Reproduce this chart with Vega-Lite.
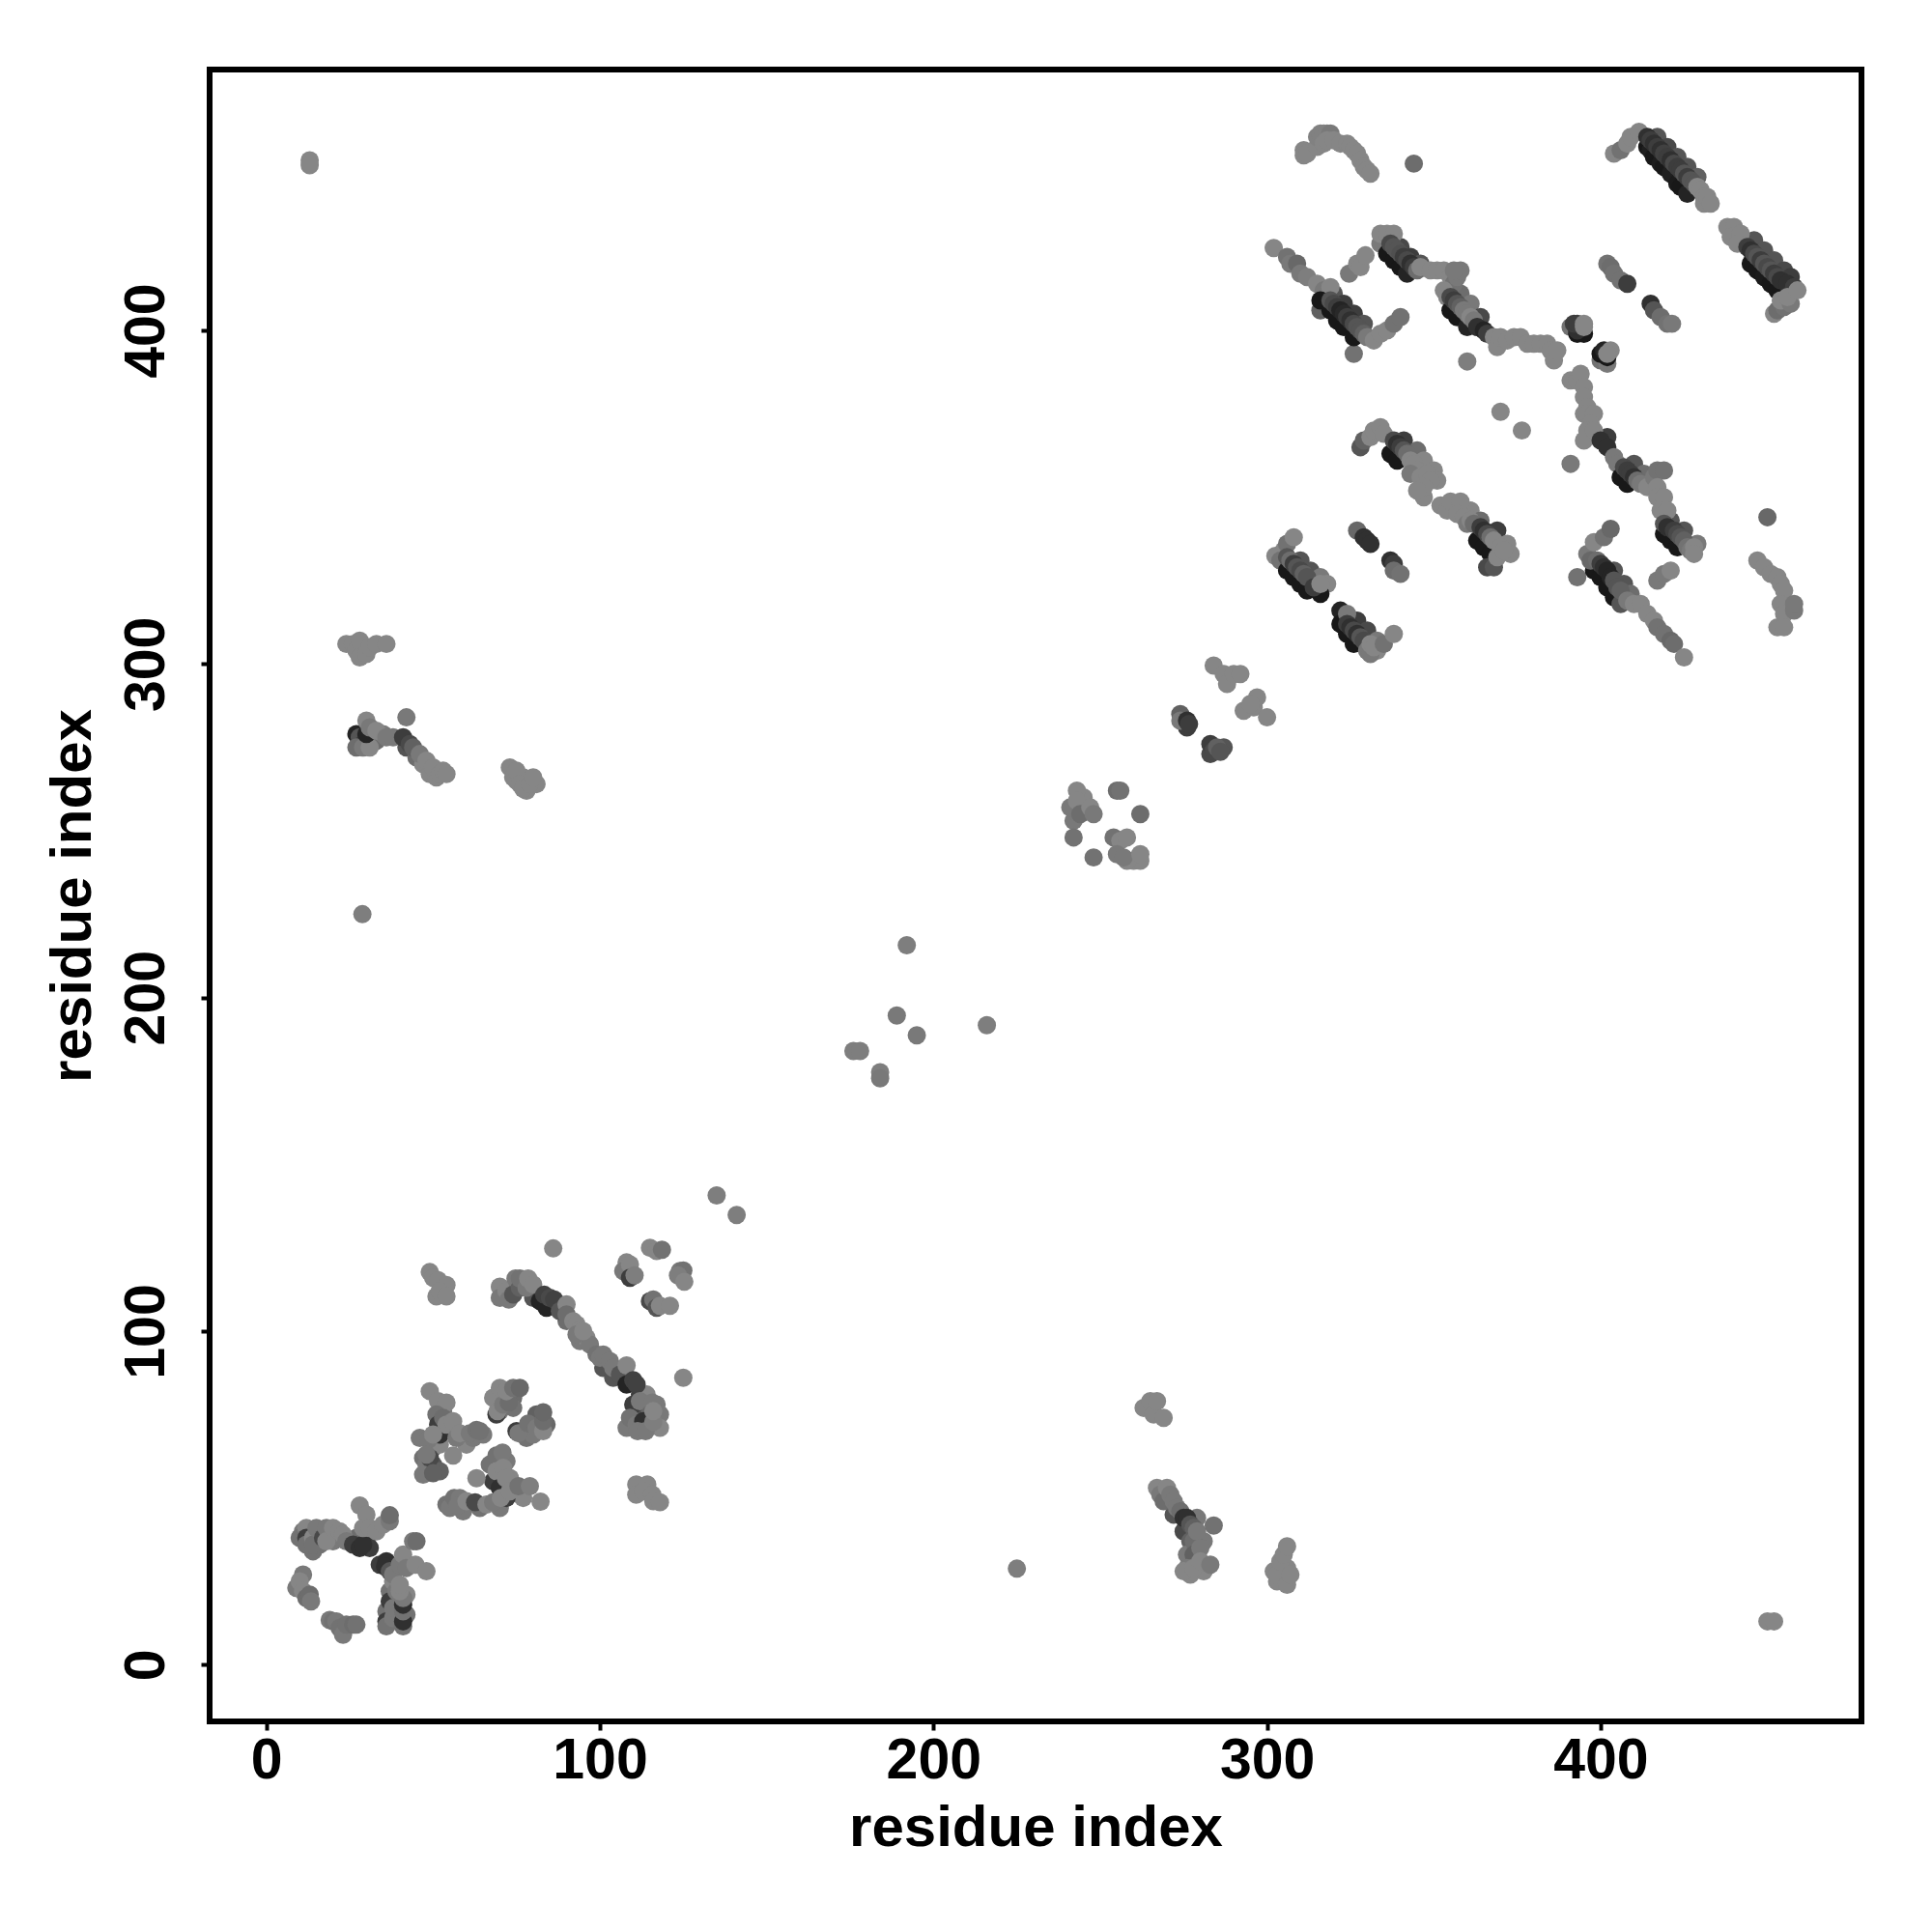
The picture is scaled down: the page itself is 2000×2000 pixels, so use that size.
{"$schema":"https://vega.github.io/schema/vega-lite/v6.json","autosize":{"type":"none"},"padding":{"left":217,"top":72,"right":73,"bottom":218},"width":1710,"height":1710,"background":"white","config":{"view":{"stroke":"#000000","strokeWidth":6}},"data":{"values":[
{"x":417,"y":458,"p":0.3},{"x":420,"y":455,"p":0.25},{"x":423,"y":452,"p":0.3},{"x":426,"y":449,"p":0.3},{"x":429,"y":446,"p":0.35},{"x":446,"y":427,"p":0.3},{"x":449,"y":424,"p":0.3},{"x":452,"y":421,"p":0.3},{"x":455,"y":418,"p":0.25},{"x":457,"y":416,"p":0.2},{"x":320,"y":411,"p":0.3},{"x":323,"y":408,"p":0.2},{"x":326,"y":405,"p":0.2},{"x":329,"y":402,"p":0.3},{"x":340,"y":425,"p":0.25},{"x":343,"y":422,"p":0.2},{"x":346,"y":420,"p":0.3},{"x":358,"y":411,"p":0.4},{"x":361,"y":408,"p":0.45},{"x":364,"y":404,"p":0.25},{"x":402,"y":368,"p":0.2},{"x":410,"y":360,"p":0.3},{"x":413,"y":357,"p":0.4},{"x":421,"y":343,"p":0.3},{"x":425,"y":340,"p":0.3},{"x":429,"y":336,"p":0.45},{"x":341,"y":367,"p":0.2},{"x":345,"y":364,"p":0.4},{"x":347,"y":361,"p":0.5},{"x":350,"y":358,"p":0.5},{"x":351,"y":355,"p":0.5},{"x":347,"y":350,"p":0.5},{"x":361,"y":346,"p":0.5},{"x":364,"y":343,"p":0.4},{"x":369,"y":340,"p":0.2},{"x":372,"y":336,"p":0.5},{"x":373,"y":333,"p":0.5},{"x":310,"y":331,"p":0.3},{"x":313,"y":328,"p":0.3},{"x":316,"y":326,"p":0.45},{"x":318,"y":324,"p":0.5},{"x":327,"y":313,"p":0.2},{"x":330,"y":310,"p":0.25},{"x":333,"y":307,"p":0.45},{"x":333,"y":304,"p":0.5},{"x":404,"y":328,"p":0.3},{"x":407,"y":324,"p":0.3},{"x":409,"y":321,"p":0.4},
{"x":14,"y":34,"p":0.42},{"x":16,"y":36,"p":0.42},{"x":20,"y":37,"p":0.45},{"x":11,"y":40,"p":0.45},{"x":10,"y":38,"p":0.42},{"x":15,"y":39,"p":0.4},{"x":40,"y":14,"p":0.42},{"x":36,"y":16,"p":0.42},{"x":37,"y":22,"p":0.42},{"x":42,"y":15,"p":0.42},{"x":42,"y":21,"p":0.5},{"x":38,"y":25,"p":0.5},{"x":34,"y":30,"p":0.2},{"x":36,"y":31,"p":0.15},{"x":30,"y":37,"p":0.15},{"x":31,"y":35,"p":0.2},{"x":27,"y":38,"p":0.4},
{"x":47,"y":62,"p":0.42},{"x":48,"y":60,"p":0.45},{"x":50,"y":60,"p":0.3},{"x":52,"y":58,"p":0.35},{"x":46,"y":68,"p":0.45},{"x":50,"y":65,"p":0.45},{"x":52,"y":66,"p":0.5},{"x":55,"y":70,"p":0.5},{"x":53,"y":76,"p":0.45},{"x":60,"y":66,"p":0.5},{"x":62,"y":68,"p":0.45},{"x":65,"y":69,"p":0.45},{"x":68,"y":80,"p":0.5},{"x":74,"y":80,"p":0.4},{"x":70,"y":76,"p":0.45},{"x":74,"y":77,"p":0.42},{"x":78,"y":68,"p":0.42},{"x":80,"y":69,"p":0.45},{"x":81,"y":75,"p":0.35},{"x":84,"y":72,"p":0.38},{"x":67,"y":60,"p":0.42},{"x":72,"y":61,"p":0.45},{"x":68,"y":55,"p":0.2},{"x":73,"y":56,"p":0.5},{"x":76,"y":51,"p":0.45},{"x":77,"y":50,"p":0.5},{"x":59,"y":46,"p":0.45},{"x":64,"y":47,"p":0.42},{"x":70,"y":47,"p":0.45},{"x":54,"y":48,"p":0.42},{"x":55,"y":47,"p":0.45},
{"x":80,"y":110,"p":0.3},{"x":87,"y":107,"p":0.25},{"x":90,"y":103,"p":0.4},{"x":94,"y":97,"p":0.45},{"x":96,"y":98,"p":0.5},{"x":97,"y":96,"p":0.45},{"x":101,"y":89,"p":0.3},{"x":104,"y":86,"p":0.3},{"x":107,"y":88,"p":0.45},{"x":112,"y":81,"p":0.2},{"x":114,"y":80,"p":0.4},{"x":113,"y":76,"p":0.3},{"x":118,"y":75,"p":0.45},{"x":118,"y":71,"p":0.5},{"x":108,"y":71,"p":0.45},{"x":114,"y":81,"p":0.5},{"x":117,"y":78,"p":0.45},
{"x":27,"y":279,"p":0.1},{"x":28,"y":278,"p":0.3},{"x":29,"y":276,"p":0.2},{"x":33,"y":277,"p":0.4},{"x":35,"y":279,"p":0.45},{"x":42,"y":275,"p":0.3},{"x":45,"y":272,"p":0.4},{"x":47,"y":270,"p":0.5},{"x":49,"y":267,"p":0.5},{"x":51,"y":266,"p":0.5},{"x":75,"y":265,"p":0.5},{"x":78,"y":262,"p":0.5},{"x":81,"y":264,"p":0.5},{"x":77,"y":266,"p":0.5},{"x":243,"y":255,"p":0.45},{"x":245,"y":260,"p":0.5},{"x":242,"y":253,"p":0.45},{"x":260,"y":241,"p":0.5},{"x":262,"y":241,"p":0.5},{"x":283,"y":273,"p":0.25},{"x":287,"y":275,"p":0.3},{"x":276,"y":281,"p":0.2},{"x":271,"y":50,"p":0.4},{"x":272,"y":45,"p":0.3},{"x":275,"y":40,"p":0.25},{"x":279,"y":44,"p":0.45},{"x":277,"y":37,"p":0.35},{"x":281,"y":37,"p":0.45},{"x":276,"y":33,"p":0.45},{"x":281,"y":28,"p":0.5},{"x":277,"y":27,"p":0.5},{"x":303,"y":25,"p":0.5},{"x":306,"y":29,"p":0.5},{"x":305,"y":26,"p":0.5},
{"x":13,"y":451,"p":0.5},{"x":13,"y":449.5,"p":0.5},{"x":344,"y":450,"p":0.4},{"x":326,"y":393,"p":0.42},{"x":360,"y":390.7,"p":0.47},{"x":370,"y":375.6,"p":0.5},{"x":376.4,"y":370,"p":0.5},{"x":391,"y":360,"p":0.45},{"x":450,"y":344,"p":0.38},{"x":393,"y":326,"p":0.42},{"x":28.8,"y":225,"p":0.47},{"x":192,"y":215.7,"p":0.47},{"x":189,"y":194.6,"p":0.45},{"x":195,"y":188.7,"p":0.45},{"x":216,"y":191.7,"p":0.47},{"x":176,"y":184,"p":0.47},{"x":178,"y":184,"p":0.47},{"x":184,"y":177.6,"p":0.47},{"x":184,"y":175.8,"p":0.45},{"x":135,"y":140.7,"p":0.47},{"x":141,"y":134.8,"p":0.47},{"x":86,"y":124.8,"p":0.5},{"x":125,"y":86,"p":0.5},{"x":225,"y":28.8,"p":0.47},{"x":450,"y":13,"p":0.5},{"x":452,"y":13,"p":0.5},
{"x":311,"y":454,"p":0.5},{"x":311,"y":452.5,"p":0.5},{"x":312,"y":453,"p":0.5},{"x":315,"y":455,"p":0.5},{"x":315,"y":458,"p":0.48},{"x":316,"y":459,"p":0.48},{"x":317,"y":459,"p":0.48},{"x":318,"y":459,"p":0.48},{"x":319,"y":459,"p":0.45},{"x":317,"y":456,"p":0.5},{"x":318,"y":457,"p":0.5},{"x":320,"y":457,"p":0.5},{"x":322,"y":456,"p":0.5},{"x":324,"y":456,"p":0.5},{"x":325,"y":455,"p":0.5},{"x":326,"y":454,"p":0.5},{"x":327,"y":453,"p":0.5},{"x":328,"y":451,"p":0.5},{"x":329,"y":449,"p":0.5},{"x":330,"y":448,"p":0.5},{"x":331,"y":447,"p":0.5},
{"x":404,"y":453,"p":0.5},{"x":406,"y":454,"p":0.42},{"x":408,"y":456,"p":0.5},{"x":409,"y":458,"p":0.5},{"x":411.5,"y":459.5,"p":0.5},{"x":414,"y":455,"p":0.05},{"x":415,"y":454,"p":0.08},{"x":416,"y":452,"p":0.05},{"x":418,"y":450,"p":0.07},{"x":419,"y":449,"p":0.05},{"x":421,"y":447,"p":0.08},{"x":423,"y":444,"p":0.06},{"x":424,"y":443,"p":0.05},{"x":426,"y":441,"p":0.1},{"x":414,"y":458,"p":0.15},{"x":415,"y":457,"p":0.2},{"x":416,"y":456,"p":0.15},{"x":417,"y":455,"p":0.2},{"x":418,"y":454,"p":0.15},{"x":419,"y":453,"p":0.22},{"x":420,"y":452,"p":0.2},{"x":421,"y":451,"p":0.15},{"x":422,"y":450,"p":0.25},{"x":423,"y":449,"p":0.2},{"x":424,"y":448,"p":0.2},{"x":425,"y":447,"p":0.3},{"x":426,"y":446,"p":0.2},{"x":427,"y":445,"p":0.3},{"x":428,"y":444,"p":0.3},{"x":429,"y":443,"p":0.5},{"x":430,"y":442,"p":0.5},{"x":431,"y":440,"p":0.5},{"x":431,"y":438,"p":0.5},{"x":432,"y":440,"p":0.5},{"x":433,"y":438,"p":0.5},
{"x":438,"y":431,"p":0.5},{"x":440,"y":431,"p":0.5},{"x":439,"y":428,"p":0.5},{"x":442,"y":429,"p":0.5},{"x":441,"y":426,"p":0.5},{"x":445,"y":420,"p":0.05},{"x":447,"y":418,"p":0.05},{"x":449,"y":416,"p":0.06},{"x":451,"y":414,"p":0.05},{"x":453,"y":412,"p":0.05},{"x":444,"y":425,"p":0.2},{"x":445,"y":424,"p":0.15},{"x":446,"y":423,"p":0.25},{"x":447,"y":422,"p":0.3},{"x":448,"y":421,"p":0.2},{"x":449,"y":420,"p":0.3},{"x":450,"y":419,"p":0.25},{"x":451,"y":418,"p":0.3},{"x":452,"y":417,"p":0.2},{"x":453,"y":416,"p":0.25},{"x":454,"y":415,"p":0.15},{"x":456,"y":414,"p":0.15},{"x":458,"y":413,"p":0.2},{"x":452,"y":405,"p":0.5},{"x":453,"y":406,"p":0.4},{"x":455,"y":407,"p":0.42},{"x":454,"y":409,"p":0.5},{"x":457,"y":408,"p":0.45},{"x":456,"y":410,"p":0.5},{"x":459,"y":412,"p":0.5},
{"x":302,"y":424.7,"p":0.5},{"x":306,"y":422,"p":0.42},{"x":307,"y":420,"p":0.45},{"x":309,"y":420,"p":0.38},{"x":310,"y":417,"p":0.45},{"x":312,"y":416,"p":0.47},{"x":315,"y":414,"p":0.5},{"x":317,"y":412,"p":0.45},{"x":319,"y":413,"p":0.5},{"x":318,"y":409,"p":0.5},
{"x":316,"y":406,"p":0.35},{"x":316,"y":409,"p":0.05},{"x":319,"y":406,"p":0.05},{"x":321,"y":403,"p":0.05},{"x":323,"y":401,"p":0.05},{"x":326,"y":398,"p":0.05},{"x":319,"y":409,"p":0.3},{"x":320,"y":408,"p":0.25},{"x":321,"y":407,"p":0.2},{"x":322,"y":406,"p":0.1},{"x":323,"y":405,"p":0.12},{"x":324,"y":404,"p":0.2},{"x":325,"y":403,"p":0.15},{"x":326,"y":402,"p":0.25},{"x":327,"y":401,"p":0.3},{"x":328,"y":400,"p":0.3},{"x":329,"y":399,"p":0.35},{"x":330,"y":398,"p":0.45},{"x":332,"y":397,"p":0.5},{"x":334,"y":399,"p":0.5},{"x":336,"y":400,"p":0.5},{"x":338,"y":402,"p":0.42},{"x":340,"y":404,"p":0.42},
{"x":324.6,"y":417,"p":0.45},{"x":327,"y":420,"p":0.5},{"x":328,"y":419,"p":0.5},{"x":329.5,"y":422.5,"p":0.5},{"x":334,"y":426,"p":0.45},{"x":334,"y":429,"p":0.5},{"x":336,"y":429,"p":0.5},{"x":338,"y":429,"p":0.5},{"x":336,"y":423,"p":0.05},{"x":338,"y":421,"p":0.05},{"x":340,"y":419,"p":0.05},{"x":342,"y":417,"p":0.1},{"x":337,"y":426,"p":0.25},{"x":338,"y":425,"p":0.3},{"x":339,"y":424,"p":0.3},{"x":340,"y":423,"p":0.28},{"x":341,"y":422,"p":0.2},{"x":342,"y":421,"p":0.25},{"x":343,"y":420,"p":0.15},{"x":344,"y":419,"p":0.2},{"x":345,"y":418,"p":0.4},{"x":346,"y":419,"p":0.5},{"x":349,"y":418,"p":0.5},{"x":351,"y":418,"p":0.5},{"x":353,"y":418,"p":0.5},{"x":355,"y":416,"p":0.5},{"x":356,"y":414,"p":0.42},{"x":357,"y":416,"p":0.45},{"x":358,"y":418,"p":0.45},{"x":356,"y":418,"p":0.45},
{"x":353,"y":412,"p":0.5},{"x":354,"y":410,"p":0.5},{"x":355,"y":406,"p":0.05},{"x":357,"y":404,"p":0.05},{"x":360,"y":401,"p":0.1},{"x":355,"y":410,"p":0.25},{"x":356,"y":409,"p":0.2},{"x":357,"y":408,"p":0.3},{"x":358,"y":407,"p":0.35},{"x":359,"y":406,"p":0.45},{"x":360,"y":405,"p":0.45},{"x":361,"y":404,"p":0.5},{"x":362,"y":403,"p":0.45},{"x":363,"y":401,"p":0.15},{"x":365,"y":400,"p":0.1},{"x":366,"y":399,"p":0.2},{"x":368,"y":398,"p":0.5},{"x":369,"y":395,"p":0.5},{"x":370,"y":398,"p":0.5},{"x":372,"y":397,"p":0.5},{"x":374,"y":398,"p":0.5},{"x":376,"y":398,"p":0.5},{"x":378,"y":396,"p":0.5},{"x":380,"y":396,"p":0.5},{"x":382,"y":396,"p":0.5},{"x":384,"y":396,"p":0.5},{"x":385,"y":394,"p":0.5},{"x":386,"y":391,"p":0.5},{"x":387,"y":394,"p":0.5},
{"x":391,"y":401,"p":0.42},{"x":393,"y":399,"p":0.05},{"x":395,"y":399,"p":0.05},{"x":393,"y":400,"p":0.15},{"x":392,"y":402,"p":0.2},{"x":393,"y":402,"p":0.2},{"x":395,"y":402,"p":0.5},{"x":395,"y":401,"p":0.5},{"x":400,"y":391,"p":0.42},{"x":402,"y":390,"p":0.45},{"x":400,"y":393,"p":0.05},{"x":402,"y":392,"p":0.05},{"x":401,"y":394,"p":0.1},{"x":403,"y":394,"p":0.5},{"x":402,"y":393,"p":0.5},
{"x":402,"y":420,"p":0.42},{"x":403,"y":419,"p":0.4},{"x":404,"y":417,"p":0.42},{"x":406,"y":415,"p":0.42},{"x":408,"y":414,"p":0.2},{"x":415,"y":408,"p":0.15},{"x":416,"y":406,"p":0.3},{"x":418,"y":404,"p":0.4},{"x":420,"y":402,"p":0.42},{"x":421.4,"y":402,"p":0.45},
{"x":391,"y":385,"p":0.5},{"x":393,"y":385,"p":0.5},{"x":394,"y":387,"p":0.5},{"x":395,"y":383,"p":0.5},{"x":395,"y":380,"p":0.5},{"x":396,"y":377,"p":0.5},{"x":395,"y":375,"p":0.5},{"x":396,"y":375,"p":0.5},{"x":398,"y":375,"p":0.5},{"x":397,"y":372,"p":0.5},{"x":396,"y":370,"p":0.5},{"x":395,"y":367,"p":0.5},{"x":398,"y":370,"p":0.5},
{"x":400,"y":367,"p":0.15},{"x":402,"y":365,"p":0.15},{"x":404,"y":362,"p":0.45},{"x":405,"y":360,"p":0.45},{"x":406,"y":356,"p":0.05},{"x":408,"y":354,"p":0.05},{"x":407,"y":359,"p":0.25},{"x":408,"y":358,"p":0.2},{"x":409,"y":357,"p":0.2},{"x":410,"y":356,"p":0.15},{"x":411,"y":355,"p":0.4},{"x":412,"y":354,"p":0.45},{"x":414,"y":353,"p":0.5},{"x":416,"y":356,"p":0.45},{"x":417,"y":358,"p":0.42},{"x":419,"y":358,"p":0.42},{"x":417,"y":353,"p":0.5},{"x":417,"y":350,"p":0.5},{"x":419,"y":350,"p":0.5},{"x":418,"y":346,"p":0.5},{"x":420,"y":346,"p":0.5},
{"x":419,"y":339,"p":0.05},{"x":421,"y":337,"p":0.05},{"x":423,"y":335,"p":0.05},{"x":419,"y":342,"p":0.3},{"x":420,"y":341,"p":0.15},{"x":422,"y":340,"p":0.2},{"x":423,"y":339,"p":0.25},{"x":424,"y":338,"p":0.3},{"x":425,"y":337,"p":0.35},{"x":426,"y":335,"p":0.42},{"x":427,"y":334,"p":0.45},{"x":428,"y":335,"p":0.5},{"x":428,"y":333,"p":0.5},
{"x":328,"y":365,"p":0.3},{"x":329,"y":367,"p":0.35},{"x":331,"y":368,"p":0.5},{"x":332,"y":370,"p":0.5},{"x":334,"y":371,"p":0.5},{"x":335,"y":369,"p":0.5},{"x":337,"y":363,"p":0.05},{"x":339,"y":361,"p":0.05},{"x":338,"y":367,"p":0.25},{"x":339,"y":366,"p":0.15},{"x":340,"y":365,"p":0.2},{"x":341,"y":364,"p":0.3},{"x":342,"y":363,"p":0.4},{"x":343,"y":361,"p":0.5},{"x":344,"y":360,"p":0.5},{"x":345,"y":358,"p":0.5},{"x":343,"y":357,"p":0.45},{"x":346,"y":356,"p":0.5},{"x":348,"y":357,"p":0.5},{"x":349,"y":355,"p":0.5},{"x":347,"y":353,"p":0.5},{"x":345,"y":352,"p":0.5},
{"x":352,"y":347.5,"p":0.5},{"x":354,"y":346,"p":0.5},{"x":355,"y":348.7,"p":0.5},{"x":358,"y":348.7,"p":0.5},{"x":357,"y":345,"p":0.5},{"x":359,"y":344,"p":0.5},{"x":360,"y":342,"p":0.45},{"x":361,"y":343,"p":0.5},{"x":363,"y":337,"p":0.05},{"x":365,"y":335,"p":0.05},{"x":367,"y":333,"p":0.05},{"x":362,"y":342,"p":0.4},{"x":364,"y":341,"p":0.2},{"x":365,"y":340,"p":0.15},{"x":366,"y":339,"p":0.25},{"x":367,"y":338,"p":0.4},{"x":366,"y":329,"p":0.25},{"x":368,"y":329,"p":0.3},{"x":368,"y":337,"p":0.5},{"x":369,"y":332,"p":0.5},{"x":370,"y":335,"p":0.5},{"x":371,"y":334,"p":0.5},
{"x":302.5,"y":332.4,"p":0.5},{"x":305,"y":334,"p":0.5},{"x":306,"y":336,"p":0.42},{"x":308,"y":338,"p":0.5},{"x":304,"y":331,"p":0.42},{"x":306,"y":328,"p":0.05},{"x":308,"y":326,"p":0.05},{"x":310,"y":324,"p":0.05},{"x":312,"y":322,"p":0.05},{"x":316,"y":321,"p":0.05},{"x":306,"y":332,"p":0.3},{"x":307,"y":331,"p":0.4},{"x":308,"y":330,"p":0.2},{"x":309,"y":329,"p":0.3},{"x":310,"y":328,"p":0.25},{"x":311,"y":327,"p":0.35},{"x":312,"y":326,"p":0.3},{"x":314,"y":323,"p":0.2},{"x":316,"y":324,"p":0.5},
{"x":327,"y":340,"p":0.38},{"x":329,"y":338,"p":0.15},{"x":330,"y":337,"p":0.15},{"x":331,"y":336,"p":0.15},{"x":337,"y":331,"p":0.15},{"x":338,"y":330,"p":0.2},{"x":338,"y":328,"p":0.4},{"x":340,"y":327,"p":0.42},
{"x":322,"y":316,"p":0.1},{"x":322,"y":312,"p":0.05},{"x":324,"y":309,"p":0.05},{"x":326,"y":306,"p":0.05},{"x":324,"y":315,"p":0.45},{"x":324,"y":312,"p":0.2},{"x":325,"y":311,"p":0.15},{"x":326,"y":310,"p":0.25},{"x":327,"y":309,"p":0.15},{"x":328,"y":308,"p":0.3},{"x":329,"y":307,"p":0.25},{"x":330,"y":304,"p":0.45},{"x":331,"y":303,"p":0.45},{"x":331,"y":306,"p":0.5},{"x":332,"y":305,"p":0.5},{"x":335,"y":306,"p":0.42},{"x":338,"y":309,"p":0.5},
{"x":396,"y":333,"p":0.45},{"x":398,"y":336.5,"p":0.5},{"x":401,"y":338,"p":0.42},{"x":403,"y":340.5,"p":0.38},{"x":398,"y":328,"p":0.05},{"x":400,"y":326,"p":0.05},{"x":402,"y":323,"p":0.05},{"x":404,"y":320,"p":0.05},{"x":406,"y":318,"p":0.3},{"x":397,"y":331,"p":0.38},{"x":399,"y":331,"p":0.4},{"x":400,"y":330,"p":0.2},{"x":401,"y":329,"p":0.15},{"x":402,"y":328,"p":0.1},{"x":403,"y":326,"p":0.1},{"x":404,"y":325,"p":0.3},{"x":405,"y":323,"p":0.3},{"x":406,"y":322,"p":0.35},{"x":408,"y":319,"p":0.45},{"x":410,"y":318,"p":0.5},{"x":412,"y":318,"p":0.5},
{"x":417,"y":325,"p":0.45},{"x":419,"y":327,"p":0.45},{"x":421,"y":328,"p":0.5},{"x":414,"y":315,"p":0.5},{"x":416,"y":313,"p":0.5},{"x":417,"y":311,"p":0.42},{"x":419,"y":309,"p":0.42},{"x":421,"y":307,"p":0.38},{"x":422,"y":306,"p":0.4},{"x":425,"y":302,"p":0.5},
{"x":447,"y":331,"p":0.5},{"x":449,"y":329,"p":0.5},{"x":451,"y":327,"p":0.5},{"x":453,"y":326,"p":0.5},{"x":454,"y":324,"p":0.5},{"x":455,"y":322,"p":0.5},{"x":454,"y":318,"p":0.5},{"x":455,"y":315,"p":0.5},{"x":458,"y":316,"p":0.45},{"x":458,"y":318,"p":0.45},{"x":453,"y":311,"p":0.5},{"x":455,"y":311,"p":0.5},
{"x":274,"y":285,"p":0.35},{"x":274,"y":283,"p":0.45},{"x":276,"y":283,"p":0.15},{"x":276.6,"y":282,"p":0.2},{"x":283,"y":276,"p":0.2},{"x":284,"y":274,"p":0.25},{"x":285,"y":275,"p":0.35},{"x":286,"y":273.7,"p":0.3},{"x":284,"y":299.5,"p":0.5},{"x":287,"y":297,"p":0.5},{"x":288,"y":294,"p":0.5},{"x":290,"y":297,"p":0.5},{"x":292,"y":297,"p":0.5},{"x":293,"y":286,"p":0.5},{"x":296,"y":287,"p":0.5},{"x":297,"y":290,"p":0.5},{"x":295,"y":288,"p":0.5},{"x":300,"y":284,"p":0.5},
{"x":241,"y":257,"p":0.45},{"x":243,"y":262,"p":0.5},{"x":243,"y":259,"p":0.5},{"x":244,"y":255,"p":0.4},{"x":247,"y":257,"p":0.5},{"x":248,"y":255,"p":0.45},{"x":255,"y":262,"p":0.4},{"x":256,"y":262,"p":0.42},{"x":262,"y":255,"p":0.4},{"x":242,"y":248,"p":0.42},{"x":248,"y":242,"p":0.42},{"x":254,"y":248,"p":0.42},{"x":256,"y":247,"p":0.5},{"x":258,"y":248,"p":0.5},{"x":255,"y":243,"p":0.45},{"x":258,"y":241,"p":0.5},{"x":257,"y":242,"p":0.45},{"x":262,"y":243,"p":0.5},
{"x":24,"y":306,"p":0.5},{"x":26,"y":306,"p":0.5},{"x":27,"y":304,"p":0.5},{"x":28,"y":307,"p":0.5},{"x":28,"y":302,"p":0.5},{"x":30,"y":303,"p":0.5},{"x":31,"y":305,"p":0.5},{"x":33,"y":306,"p":0.5},{"x":36,"y":306,"p":0.5},
{"x":27,"y":275,"p":0.4},{"x":29,"y":275,"p":0.45},{"x":31,"y":275,"p":0.5},{"x":30,"y":279,"p":0.1},{"x":30,"y":283,"p":0.5},{"x":31,"y":281,"p":0.45},{"x":33,"y":280,"p":0.5},{"x":36,"y":278,"p":0.45},{"x":38,"y":278,"p":0.45},{"x":42,"y":284,"p":0.45},{"x":41,"y":278,"p":0.2},{"x":43,"y":276,"p":0.25},{"x":44,"y":275,"p":0.35},{"x":46,"y":273,"p":0.45},{"x":48,"y":271,"p":0.5},{"x":50,"y":269,"p":0.5},{"x":52,"y":267,"p":0.5},{"x":53,"y":268,"p":0.5},{"x":54,"y":267,"p":0.5},
{"x":73,"y":269,"p":0.5},{"x":74,"y":266,"p":0.5},{"x":75,"y":268,"p":0.5},{"x":76,"y":264,"p":0.5},{"x":77,"y":262.6,"p":0.5},{"x":79,"y":264,"p":0.5},{"x":80,"y":266,"p":0.5},
{"x":263,"y":77,"p":0.5},{"x":265,"y":79,"p":0.5},{"x":266,"y":75,"p":0.5},{"x":267,"y":79,"p":0.5},{"x":269,"y":74,"p":0.5},
{"x":267,"y":53,"p":0.5},{"x":268,"y":51,"p":0.45},{"x":269,"y":49,"p":0.4},{"x":270,"y":53,"p":0.5},{"x":271,"y":51,"p":0.45},{"x":272,"y":49,"p":0.45},{"x":273,"y":47,"p":0.45},{"x":274,"y":46,"p":0.4},{"x":275,"y":44,"p":0.15},{"x":276,"y":44,"p":0.15},{"x":277,"y":42,"p":0.3},{"x":278,"y":41,"p":0.35},{"x":278,"y":37,"p":0.4},{"x":279,"y":40,"p":0.45},{"x":278,"y":33,"p":0.35},{"x":280,"y":35,"p":0.45},{"x":276,"y":29,"p":0.45},{"x":275,"y":28,"p":0.5},{"x":278,"y":29,"p":0.5},{"x":280,"y":31,"p":0.5},{"x":283,"y":30,"p":0.45},{"x":284,"y":41.7,"p":0.42},
{"x":302,"y":28,"p":0.5},{"x":303,"y":27,"p":0.5},{"x":304,"y":31,"p":0.5},{"x":305,"y":33,"p":0.5},{"x":306,"y":35.5,"p":0.5},{"x":306,"y":24,"p":0.5},{"x":307,"y":27,"p":0.5},
{"x":12,"y":41,"p":0.5},{"x":12,"y":38,"p":0.2},{"x":12,"y":36,"p":0.42},{"x":14,"y":38,"p":0.5},{"x":14,"y":36,"p":0.42},{"x":15,"y":41,"p":0.45},{"x":17,"y":38,"p":0.25},{"x":18,"y":41,"p":0.45},{"x":18,"y":37,"p":0.5},{"x":20,"y":41,"p":0.5},{"x":22,"y":40,"p":0.5},{"x":23,"y":39,"p":0.5},{"x":24,"y":37,"p":0.45},{"x":26,"y":36,"p":0.2},{"x":28,"y":35,"p":0.15},{"x":29,"y":36,"p":0.15},{"x":28,"y":47.7,"p":0.5},{"x":30,"y":45,"p":0.5},{"x":29,"y":41,"p":0.5},{"x":31,"y":41,"p":0.5},{"x":33,"y":40,"p":0.5},{"x":35,"y":42,"p":0.5},{"x":37,"y":43,"p":0.45},{"x":37,"y":44.8,"p":0.4},
{"x":11,"y":27,"p":0.45},{"x":9,"y":23,"p":0.45},{"x":10,"y":25,"p":0.5},{"x":11,"y":22,"p":0.5},{"x":12,"y":20,"p":0.4},{"x":13,"y":21,"p":0.4},{"x":13.4,"y":19,"p":0.45},{"x":19,"y":13.4,"p":0.45},{"x":20,"y":13,"p":0.42},{"x":21,"y":13,"p":0.45},{"x":22,"y":11,"p":0.42},{"x":23,"y":9,"p":0.45},{"x":24,"y":12,"p":0.42},{"x":26,"y":12,"p":0.4},{"x":27,"y":12,"p":0.42},
{"x":35.6,"y":29.4,"p":0.15},{"x":37,"y":28,"p":0.3},{"x":38,"y":27,"p":0.45},{"x":40,"y":30,"p":0.45},{"x":41,"y":33,"p":0.5},{"x":42,"y":29,"p":0.45},{"x":44.7,"y":30,"p":0.5},{"x":44,"y":37,"p":0.45},{"x":45,"y":37,"p":0.4},{"x":48,"y":28,"p":0.5},{"x":36,"y":13,"p":0.2},{"x":36,"y":11.5,"p":0.42},{"x":38,"y":14,"p":0.45},{"x":37,"y":19,"p":0.2},{"x":38,"y":17,"p":0.45},{"x":39,"y":22,"p":0.45},{"x":41,"y":11.5,"p":0.42},{"x":41,"y":13,"p":0.15},{"x":41,"y":16,"p":0.42},{"x":41,"y":18,"p":0.15},{"x":41,"y":20,"p":0.45},{"x":40,"y":22,"p":0.5},{"x":40,"y":24,"p":0.5},
{"x":49,"y":82,"p":0.5},{"x":51.5,"y":79,"p":0.5},{"x":54,"y":78.6,"p":0.5},{"x":51,"y":75,"p":0.42},{"x":51.5,"y":72,"p":0.2},{"x":53,"y":74,"p":0.4},{"x":52,"y":69,"p":0.15},{"x":54,"y":72,"p":0.5},{"x":48.6,"y":67.5,"p":0.45},{"x":50,"y":69,"p":0.5},{"x":49,"y":62,"p":0.25},{"x":48,"y":63,"p":0.45},{"x":47,"y":57,"p":0.45},{"x":50,"y":57.4,"p":0.35},{"x":56,"y":62.7,"p":0.5},{"x":56,"y":73,"p":0.5},{"x":57,"y":68,"p":0.45},{"x":58,"y":69.4,"p":0.5},{"x":61,"y":69.4,"p":0.45},{"x":63,"y":70.4,"p":0.42},{"x":64,"y":70,"p":0.42},
{"x":69,"y":75,"p":0.2},{"x":69.3,"y":76,"p":0.5},{"x":71,"y":78,"p":0.45},{"x":72.7,"y":78.6,"p":0.4},{"x":70,"y":83,"p":0.5},{"x":72,"y":82,"p":0.5},{"x":74,"y":83,"p":0.42},{"x":76,"y":83,"p":0.38},
{"x":75,"y":70,"p":0.2},{"x":75.6,"y":69.4,"p":0.45},{"x":78.5,"y":72.3,"p":0.42},{"x":81,"y":71,"p":0.45},{"x":83,"y":70,"p":0.5},{"x":83,"y":73,"p":0.4},{"x":83,"y":75.7,"p":0.38},
{"x":69,"y":62.7,"p":0.42},{"x":70.8,"y":63.6,"p":0.45},{"x":69,"y":58,"p":0.5},{"x":71,"y":59,"p":0.5},{"x":63,"y":55.9,"p":0.5},{"x":70,"y":53,"p":0.15},{"x":71.8,"y":55.9,"p":0.5},{"x":72,"y":50,"p":0.2},{"x":56.3,"y":50,"p":0.42},{"x":58,"y":50,"p":0.45},{"x":57.3,"y":47.7,"p":0.45},{"x":60,"y":49,"p":0.5},{"x":62.6,"y":48.7,"p":0.25},{"x":66,"y":48,"p":0.5},{"x":68,"y":48.7,"p":0.45},{"x":70.3,"y":50,"p":0.5},{"x":73,"y":52,"p":0.5},{"x":75.6,"y":53.5,"p":0.42},{"x":79,"y":53.5,"p":0.47},{"x":82.2,"y":48.9,"p":0.5},
{"x":49,"y":117.7,"p":0.5},{"x":50,"y":116,"p":0.5},{"x":51.5,"y":115.3,"p":0.5},{"x":54,"y":113.8,"p":0.5},{"x":51,"y":110.4,"p":0.5},{"x":52,"y":112,"p":0.5},{"x":54,"y":110.4,"p":0.5},
{"x":70,"y":113.3,"p":0.5},{"x":70,"y":110,"p":0.45},{"x":72,"y":112,"p":0.5},{"x":72.7,"y":109.5,"p":0.45},{"x":74,"y":111,"p":0.3},{"x":74.7,"y":115.8,"p":0.45},{"x":76,"y":113,"p":0.35},{"x":76,"y":115.8,"p":0.42},{"x":78,"y":113,"p":0.45},{"x":78.5,"y":115.8,"p":0.5},{"x":80,"y":114,"p":0.5},
{"x":82,"y":109,"p":0.1},{"x":84,"y":107,"p":0.1},{"x":83.3,"y":110.9,"p":0.22},{"x":85,"y":110,"p":0.25},{"x":86.3,"y":109.5,"p":0.22},{"x":88,"y":106,"p":0.3},{"x":90,"y":108,"p":0.5},{"x":90,"y":105,"p":0.4},{"x":92,"y":103,"p":0.5},{"x":93,"y":102,"p":0.5},{"x":94,"y":100.3,"p":0.5},{"x":93,"y":99,"p":0.45},{"x":95,"y":100,"p":0.5},
{"x":99,"y":93,"p":0.42},{"x":100,"y":92,"p":0.45},{"x":101,"y":93,"p":0.45},{"x":103,"y":91,"p":0.45},{"x":104,"y":89,"p":0.45},{"x":106,"y":87,"p":0.3},{"x":108,"y":84,"p":0.1},{"x":108,"y":89.7,"p":0.5},{"x":110,"y":85.3,"p":0.22},{"x":111,"y":84,"p":0.22},{"x":110,"y":78,"p":0.2},{"x":112,"y":79,"p":0.45},{"x":115.7,"y":78.6,"p":0.45},{"x":115,"y":75,"p":0.38},{"x":109,"y":74,"p":0.42},{"x":111,"y":72,"p":0.45},{"x":113,"y":73,"p":0.15},{"x":111.3,"y":70,"p":0.45},{"x":113.7,"y":70,"p":0.45},{"x":116,"y":72.8,"p":0.47},{"x":116,"y":76,"p":0.5},
{"x":110.9,"y":54,"p":0.5},{"x":114.2,"y":54,"p":0.5},{"x":110.9,"y":51,"p":0.5},{"x":113,"y":52,"p":0.5},{"x":115.7,"y":51,"p":0.5},{"x":116,"y":49,"p":0.5},{"x":118,"y":48.7,"p":0.5},
{"x":108,"y":120.6,"p":0.5},{"x":107,"y":118,"p":0.45},{"x":109,"y":120,"p":0.5},{"x":109,"y":116,"p":0.2},{"x":110.4,"y":116.7,"p":0.47},{"x":115,"y":125,"p":0.5},{"x":117,"y":124,"p":0.5},{"x":118.6,"y":124.4,"p":0.42},{"x":124,"y":118,"p":0.45},{"x":125,"y":118.2,"p":0.42},{"x":123.4,"y":116.7,"p":0.47},{"x":125.3,"y":114.8,"p":0.5},{"x":115,"y":109,"p":0.25},{"x":116,"y":109.5,"p":0.42},{"x":117,"y":107,"p":0.3},{"x":118,"y":107.6,"p":0.5},{"x":121,"y":107.6,"p":0.5}
]},"mark":{"type":"circle","size":360,"opacity":1,"clip":false},"encoding":{"x":{"field":"x","type":"quantitative","scale":{"domain":[-17,478.2],"nice":false,"zero":false},"axis":{"values":[0,100,200,300,400],"title":"residue index","titleFont":"Liberation Sans","titleFontWeight":"bold","titleFontSize":60,"titleColor":"#000000","titlePadding":11,"labelFont":"Liberation Sans","labelFontWeight":"bold","labelFontSize":59,"labelColor":"#000000","labelPadding":2,"tickColor":"#000000","tickWidth":4,"tickSize":9,"grid":false,"domain":false,"labelFlush":false}},"y":{"field":"y","type":"quantitative","scale":{"domain":[-17,478.2],"nice":false,"zero":false},"axis":{"values":[0,100,200,300,400],"title":"residue index","titleFont":"Liberation Sans","titleFontWeight":"bold","titleFontSize":60,"titleColor":"#000000","titlePadding":16,"labelFont":"Liberation Sans","labelFontWeight":"bold","labelFontSize":59,"labelColor":"#000000","labelAngle":270,"labelAlign":"center","labelBaseline":"bottom","labelPadding":27,"tickColor":"#000000","tickWidth":4,"tickSize":9,"grid":false,"domain":false,"labelFlush":false}},"color":{"field":"p","type":"quantitative","scale":{"domain":[0,1],"range":["#0c0c0c","#ffffff"],"interpolate":"rgb"},"legend":null}}}
